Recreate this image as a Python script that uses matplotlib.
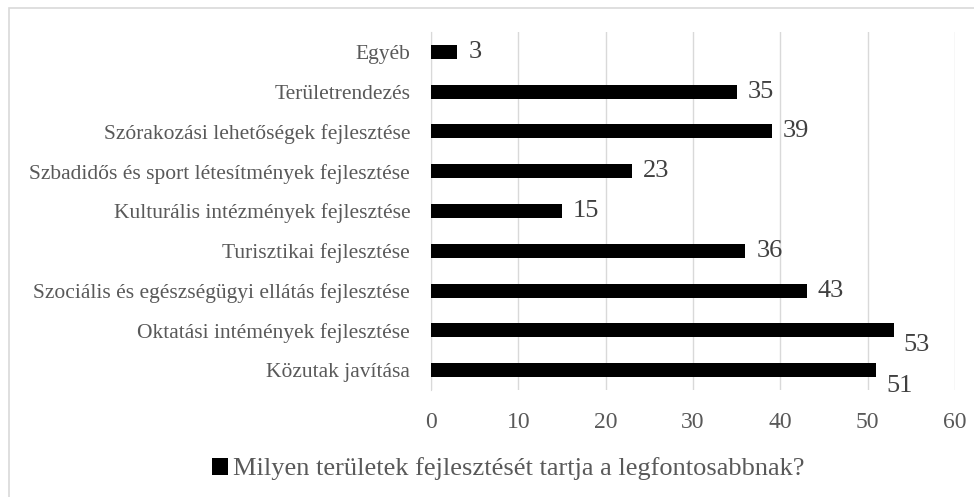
import matplotlib
matplotlib.use("Agg")
import matplotlib.pyplot as plt
from matplotlib.patches import Rectangle

categories = [
    "Közutak javítása",
    "Oktatási intémények fejlesztése",
    "Szociális és egészségügyi ellátás fejlesztése",
    "Turisztikai fejlesztése",
    "Kulturális intézmények fejlesztése",
    "Szbadidős és sport létesítmények fejlesztése",
    "Szórakozási lehetőségek fejlesztése",
    "Területrendezés",
    "Egyéb",
]
values = [51, 53, 43, 36, 15, 23, 39, 35, 3]
series_name = "Milyen területek fejlesztését tartja a legfontosabbnak?"
xticks = [0, 10, 20, 30, 40, 50, 60]

plt.rcParams["font.family"] = ["Liberation Serif", "DejaVu Serif"]

W, H = 974, 497
fig = plt.figure(figsize=(W / 100, H / 100), dpi=100)
ax = fig.add_axes([431 / W, 1 - 390 / H, (955 - 431) / W, (390 - 32) / H])

y = range(len(categories))
bars = ax.barh(y, values, height=0.35, color="black", label=series_name, zorder=3)

# data labels; the two longest sit below-right of the bar end
for i, v in enumerate(values):
    if v >= 50:
        off = (16.5, -10.5) if v == 53 else (16.5, -11.5)
        ha = "center"
    else:
        off = (8, 0)
        ha = "left"
    ax.annotate(f"{v}", (v, i), xytext=off, textcoords="offset points",
                ha=ha, va="center", fontsize=19, color="#404040")

ax.set_xlim(0, 60)
ax.set_ylim(-0.5, len(categories) - 0.5)
ax.set_xticks(xticks)
ax.set_yticks(list(y))
ax.set_yticklabels(categories, fontsize=15.5, color="#595959")
ax.tick_params(axis="x", labelsize=17, labelcolor="#595959", length=0, pad=16)
ax.tick_params(axis="y", length=0, pad=15)
ax.grid(axis="x", color="#d9d9d9", lw=1, zorder=0)
for s in ["top", "right", "bottom"]:
    ax.spines[s].set_visible(False)
ax.spines["left"].set_color("#d9d9d9")

fig.legend(handles=[bars], labels=[series_name], loc="center",
           bbox_to_anchor=(508 / W, 1 - 469 / H), frameon=False,
           fontsize=19, labelcolor="#595959", handlelength=0.6,
           handleheight=0.6, handletextpad=0.2)

# outer chart frame
fig.patches.append(Rectangle((9 / W, -0.1), 1.2, 1 - 8 / H + 0.1,
                             transform=fig.transFigure, fill=False,
                             edgecolor="#d9d9d9", lw=1.2))

fig.savefig("out.png", dpi=100)
